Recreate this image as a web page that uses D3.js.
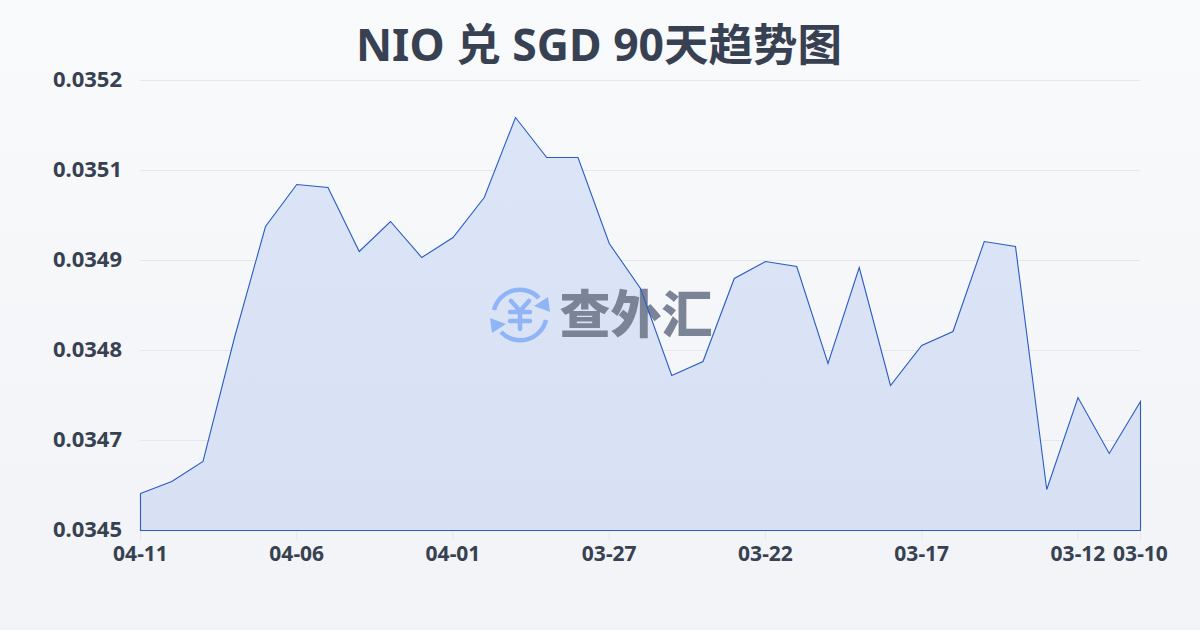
<!DOCTYPE html>
<html>
<head>
<meta charset="utf-8">
<script src="https://cdn.jsdelivr.net/npm/d3@7"></script>
<style>
  html, body { margin: 0; padding: 0; }
  body { width: 1200px; height: 630px; overflow: hidden; }
  text { font-family: "Noto Sans", "Noto Sans CJK SC", sans-serif; }
</style>
</head>
<body>
<div id="chart"></div>
<script>
const chartTitle = "NIO 兑 SGD 90天趋势图";
const dates = ["04-11", "04-10", "04-09", "04-08", "04-07", "04-06", "04-05", "04-04", "04-03", "04-02", "04-01",
    "03-31", "03-30", "03-29", "03-28", "03-27", "03-26", "03-25", "03-24", "03-23", "03-22",
    "03-21", "03-20", "03-19", "03-18", "03-17", "03-16", "03-15", "03-14", "03-13", "03-12", "03-11", "03-10"];
const rates = [0.0345855, 0.0346035, 0.0346335, 0.034818, 0.034986, 0.035049, 0.0350445, 0.0349485, 0.0349935, 0.0349395, 0.0349695,
    0.0350295, 0.0351495, 0.0350895, 0.0350895, 0.0349605, 0.034893, 0.0347625, 0.0347835, 0.034908, 0.0349335,
    0.034926, 0.0347805, 0.0349245, 0.0347475, 0.0348075, 0.0348285, 0.0349635, 0.034956, 0.0345915, 0.0347295, 0.0346455, 0.0347235];
const xTickLabels = ["04-11", "04-06", "04-01", "03-27", "03-22", "03-17", "03-12", "03-10"];
const yTickValues = [0.03453, 0.034665, 0.0348, 0.034935, 0.03507, 0.035205];

const data = dates.map(function(d, i) { return { date: d, rate: rates[i] }; });

const width = 1200, height = 630;
const margin = { top: 80, right: 60, bottom: 100, left: 140 };

const svg = d3.select("#chart").append("svg")
    .attr("width", width)
    .attr("height", height)
    .style("display", "block");

const defs = svg.append("defs");

/* page background */
const bg = defs.append("linearGradient").attr("id", "bg")
    .attr("x1", 0).attr("y1", 0).attr("x2", 0).attr("y2", 1);
bg.append("stop").attr("offset", "0%").attr("stop-color", "#f8fafc");
bg.append("stop").attr("offset", "100%").attr("stop-color", "#f1f3f6");
svg.append("rect").attr("width", width).attr("height", height).attr("fill", "url(#bg)");

/* area fill */
const areaFill = defs.append("linearGradient").attr("id", "areaFill")
    .attr("x1", 0).attr("y1", 0).attr("x2", 0).attr("y2", 1);
areaFill.append("stop").attr("offset", "0%").attr("stop-color", "#dae4f8");
areaFill.append("stop").attr("offset", "100%").attr("stop-color", "#d7e0f4");

const x = d3.scalePoint()
    .domain(dates)
    .range([margin.left, width - margin.right]);
const y = d3.scaleLinear()
    .domain([yTickValues[0], yTickValues[yTickValues.length - 1]])
    .range([height - margin.bottom, margin.top]);

/* title */
svg.append("text")
    .attr("x", 599)
    .attr("y", 61)
    .attr("text-anchor", "middle")
    .attr("fill", "#374151")
    .style("font-size", "44.5px")
    .style("font-weight", 700)
    .text(chartTitle);

/* grid lines */
svg.append("g").selectAll("line")
    .data(yTickValues)
    .enter().append("line")
    .attr("x1", margin.left)
    .attr("x2", width - margin.right)
    .attr("y1", function(d) { return Math.round(y(d)) + 0.5; })
    .attr("y2", function(d) { return Math.round(y(d)) + 0.5; })
    .attr("stroke", "#e5e7eb")
    .attr("stroke-width", 1);

/* axes */
const xAxis = svg.append("g")
    .attr("transform", "translate(0," + (height - margin.bottom) + ")")
    .call(d3.axisBottom(x).tickValues(xTickLabels).tickSize(10).tickPadding(6));
xAxis.select(".domain").remove();
xAxis.selectAll("line").attr("stroke", "#e5e7eb");
xAxis.selectAll("text")
    .attr("fill", "#374151")
    .style("font-size", "21px")
    .style("font-weight", 700);

const yAxis = svg.append("g")
    .attr("transform", "translate(" + margin.left + ",-1)")
    .call(d3.axisLeft(y).tickValues(yTickValues).tickSize(0).tickPadding(18)
        .tickFormat(function(d) { return d.toFixed(4); }));
yAxis.select(".domain").remove();
yAxis.selectAll("text")
    .attr("fill", "#374151")
    .style("font-size", "22px")
    .style("font-weight", 700);

/* area */
const area = d3.area()
    .x(function(d) { return x(d.date); })
    .y0(height - margin.bottom)
    .y1(function(d) { return y(d.rate); });

svg.append("path")
    .datum(data)
    .attr("d", area)
    .attr("transform", "translate(0.5,0.5)")
    .attr("fill", "url(#areaFill)")
    .attr("fill-opacity", 0.95);

/* watermark */
const mark = svg.append("g").attr("transform", "translate(520,315)");
const logoColor = "#8fb5f7";
mark.append("path")
    .attr("d", "M-26,-5 A26.5,26.5 0 0 1 19,-17")
    .attr("fill", "none").attr("stroke", logoColor).attr("stroke-width", 4.5);
mark.append("path")
    .attr("d", "M30,-3 L28,-18 L14,-9 Z")
    .attr("fill", logoColor);
mark.append("path")
    .attr("d", "M26,5 A26.5,26.5 0 0 1 -19,17")
    .attr("fill", "none").attr("stroke", logoColor).attr("stroke-width", 4.5);
mark.append("path")
    .attr("d", "M-30,3 L-28,18 L-14,9 Z")
    .attr("fill", logoColor);
mark.append("path")
    .attr("d", "M-9,-14 L0,-4 L9,-14 M-10,-3 H10 M-10,6 H10 M0,-4 V14")
    .attr("fill", "none").attr("stroke", logoColor).attr("stroke-width", 4.5)
    .attr("stroke-linecap", "round");
svg.append("text")
    .attr("x", 636)
    .attr("y", 333)
    .attr("text-anchor", "middle")
    .attr("fill", "#7b8496")
    .style("font-size", "51px")
    .style("font-weight", 900)
    .text("查外汇");

/* outline, closed along the baseline */
svg.append("path")
    .datum(data)
    .attr("d", area)
    .attr("transform", "translate(0.5,0.5)")
    .attr("fill", "none")
    .attr("stroke", "#2a5cc4")
    .attr("stroke-width", 1.1);
</script>
</body>
</html>
